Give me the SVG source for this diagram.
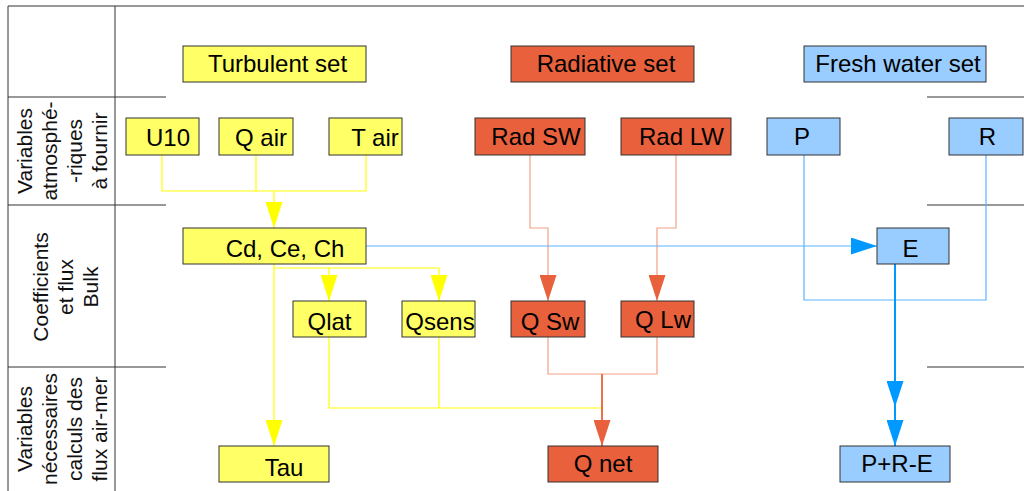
<svg xmlns="http://www.w3.org/2000/svg" width="1024" height="491" viewBox="0 0 1024 491">
<style>
.tbl{stroke:#333;stroke-width:1;fill:none}
.box{stroke:#333;stroke-width:1}
.y{fill:#ffff66}
.r{fill:#e8603c}
.b{fill:#99ccff}
.t{font-family:"Liberation Sans",Arial,sans-serif;font-size:24px;fill:#000;text-anchor:middle}
.h{font-family:"Liberation Sans",Arial,sans-serif;font-size:24px;fill:#000;text-anchor:middle}
.lab{font-family:"Liberation Sans",Arial,sans-serif;font-size:21px;fill:#111;text-anchor:middle}
.cy{stroke:#ffff00;stroke-width:1.2;fill:none}
.cr{stroke:#f4a088;stroke-width:1.2;fill:none}
.cb{stroke:#5cb4ff;stroke-width:1.2;fill:none}
</style>
<defs>
<marker id="ay" markerUnits="userSpaceOnUse" viewBox="0 0 26 17" refX="26" refY="8.5" markerWidth="26" markerHeight="17" orient="auto"><path d="M0,0 L26,8.5 L0,17 Z" fill="#ffff00"/></marker>
<marker id="ar" markerUnits="userSpaceOnUse" viewBox="0 0 26 17" refX="26" refY="8.5" markerWidth="26" markerHeight="17" orient="auto"><path d="M0,0 L26,8.5 L0,17 Z" fill="#e8603c"/></marker>
<marker id="ab" markerUnits="userSpaceOnUse" viewBox="0 0 26 17" refX="26" refY="8.5" markerWidth="26" markerHeight="17" orient="auto"><path d="M0,0 L26,8.5 L0,17 Z" fill="#0099ff"/></marker>
</defs>
<rect width="1024" height="491" fill="#fff"/>
<g id="table">
<path class="tbl" d="M8,6 H1024 M8,6 V491 M115,6 V491 M8,97 H166 M8,205 H166 M8,367 H166 M927,97 H1024 M927,205 H1024 M927,367 H1024"/>
<text class="lab" transform="rotate(-90 32 151)" x="32" y="151">Variables</text>
<text class="lab" transform="rotate(-90 57 151)" x="57" y="151">atmosphé-</text>
<text class="lab" transform="rotate(-90 82 151)" x="82" y="151">-riques</text>
<text class="lab" transform="rotate(-90 107 151)" x="107" y="151">à fournir</text>
<text class="lab" transform="rotate(-90 48 287)" x="48" y="287">Coefficients</text>
<text class="lab" transform="rotate(-90 73 287)" x="73" y="287">et flux</text>
<text class="lab" transform="rotate(-90 98 287)" x="98" y="287">Bulk</text>
<text class="lab" transform="rotate(-90 32 429)" x="32" y="429">Variables</text>
<text class="lab" transform="rotate(-90 57 429)" x="57" y="429">nécessaires</text>
<text class="lab" transform="rotate(-90 82 429)" x="82" y="429">calculs des</text>
<text class="lab" transform="rotate(-90 107 429)" x="107" y="429">flux air-mer</text>
</g>
<g id="connectors">
<path class="cy" d="M162,155 V191 H366 V155 M256,155 V191"/>
<path class="cy" d="M274,191 V228" marker-end="url(#ay)"/>
<path class="cy" d="M274,264 V446" marker-end="url(#ay)"/>
<path class="cy" d="M274,268 H439 V301" marker-end="url(#ay)"/>
<path class="cy" d="M329,268 V301" marker-end="url(#ay)"/>
<path class="cy" d="M329,337 V408 H602 M439,337 V408"/>
<path class="cr" d="M530,155 V228 H548 V301" marker-end="url(#ar)"/>
<path class="cr" d="M676,155 V228 H657 V301" marker-end="url(#ar)"/>
<path class="cr" d="M548,337 V374 H657 V337"/>
<path d="M602,374 V446" stroke="#ec7048" stroke-width="2" fill="none" marker-end="url(#ar)"/>
<path class="cb" d="M366,246 H877" stroke-width="1.6" marker-end="url(#ab)"/>
<path class="cb" d="M804,155 V300 H986 V155"/>
<path d="M895,264 V407 V446" stroke="#0099ff" stroke-width="2" fill="none" marker-mid="url(#ab)" marker-end="url(#ab)"/>
</g>
<g id="turbulent-set"><rect class="box y" x="183" y="46" width="183" height="36"/><text class="h" x="277.5" y="72">Turbulent set</text></g>
<g id="radiative-set"><rect class="box r" x="511" y="46" width="183" height="36"/><text class="h" x="606" y="72">Radiative set</text></g>
<g id="fresh-water-set"><rect class="box b" x="804" y="46" width="182" height="36"/><text class="h" x="898" y="72">Fresh water set</text></g>
<g id="u10"><rect class="box y" x="126" y="118" width="73" height="37"/><text class="t" x="168" y="146">U10</text></g>
<g id="qair"><rect class="box y" x="219" y="118" width="74" height="37"/><text class="t" x="261" y="146">Q air</text></g>
<g id="tair"><rect class="box y" x="329" y="118" width="73" height="37"/><text class="t" x="375" y="146">T air</text></g>
<g id="radsw"><rect class="box r" x="475" y="118" width="110" height="37"/><text class="t" x="536" y="145">Rad SW</text></g>
<g id="radlw"><rect class="box r" x="621" y="118" width="110" height="37"/><text class="t" x="681.5" y="145">Rad LW</text></g>
<g id="p"><rect class="box b" x="767" y="118" width="73" height="37"/><text class="t" x="802" y="145">P</text></g>
<g id="r"><rect class="box b" x="949" y="118" width="74" height="37"/><text class="t" x="987.5" y="145">R</text></g>
<g id="cdcech"><rect class="box y" x="183" y="228" width="183" height="36"/><text class="t" x="285" y="257">Cd, Ce, Ch</text></g>
<g id="e"><rect class="box b" x="877" y="228" width="72" height="36"/><text class="t" x="910.5" y="257">E</text></g>
<g id="qlat"><rect class="box y" x="293" y="301" width="73" height="36"/><text class="t" x="329.5" y="330">Qlat</text></g>
<g id="qsens"><rect class="box y" x="402" y="301" width="73" height="36"/><text class="t" x="440" y="330">Qsens</text></g>
<g id="qsw"><rect class="box r" x="511" y="301" width="74" height="36"/><text class="t" x="550" y="330">Q Sw</text></g>
<g id="qlw"><rect class="box r" x="621" y="301" width="73" height="36"/><text class="t" x="663" y="328">Q Lw</text></g>
<g id="tau"><rect class="box y" x="219" y="446" width="110" height="36"/><text class="t" x="284" y="476">Tau</text></g>
<g id="qnet"><rect class="box r" x="548" y="446" width="110" height="36"/><text class="t" x="603" y="472">Q net</text></g>
<g id="pre"><rect class="box b" x="840" y="446" width="110" height="36"/><text class="t" x="897" y="472">P+R-E</text></g>
</svg>
